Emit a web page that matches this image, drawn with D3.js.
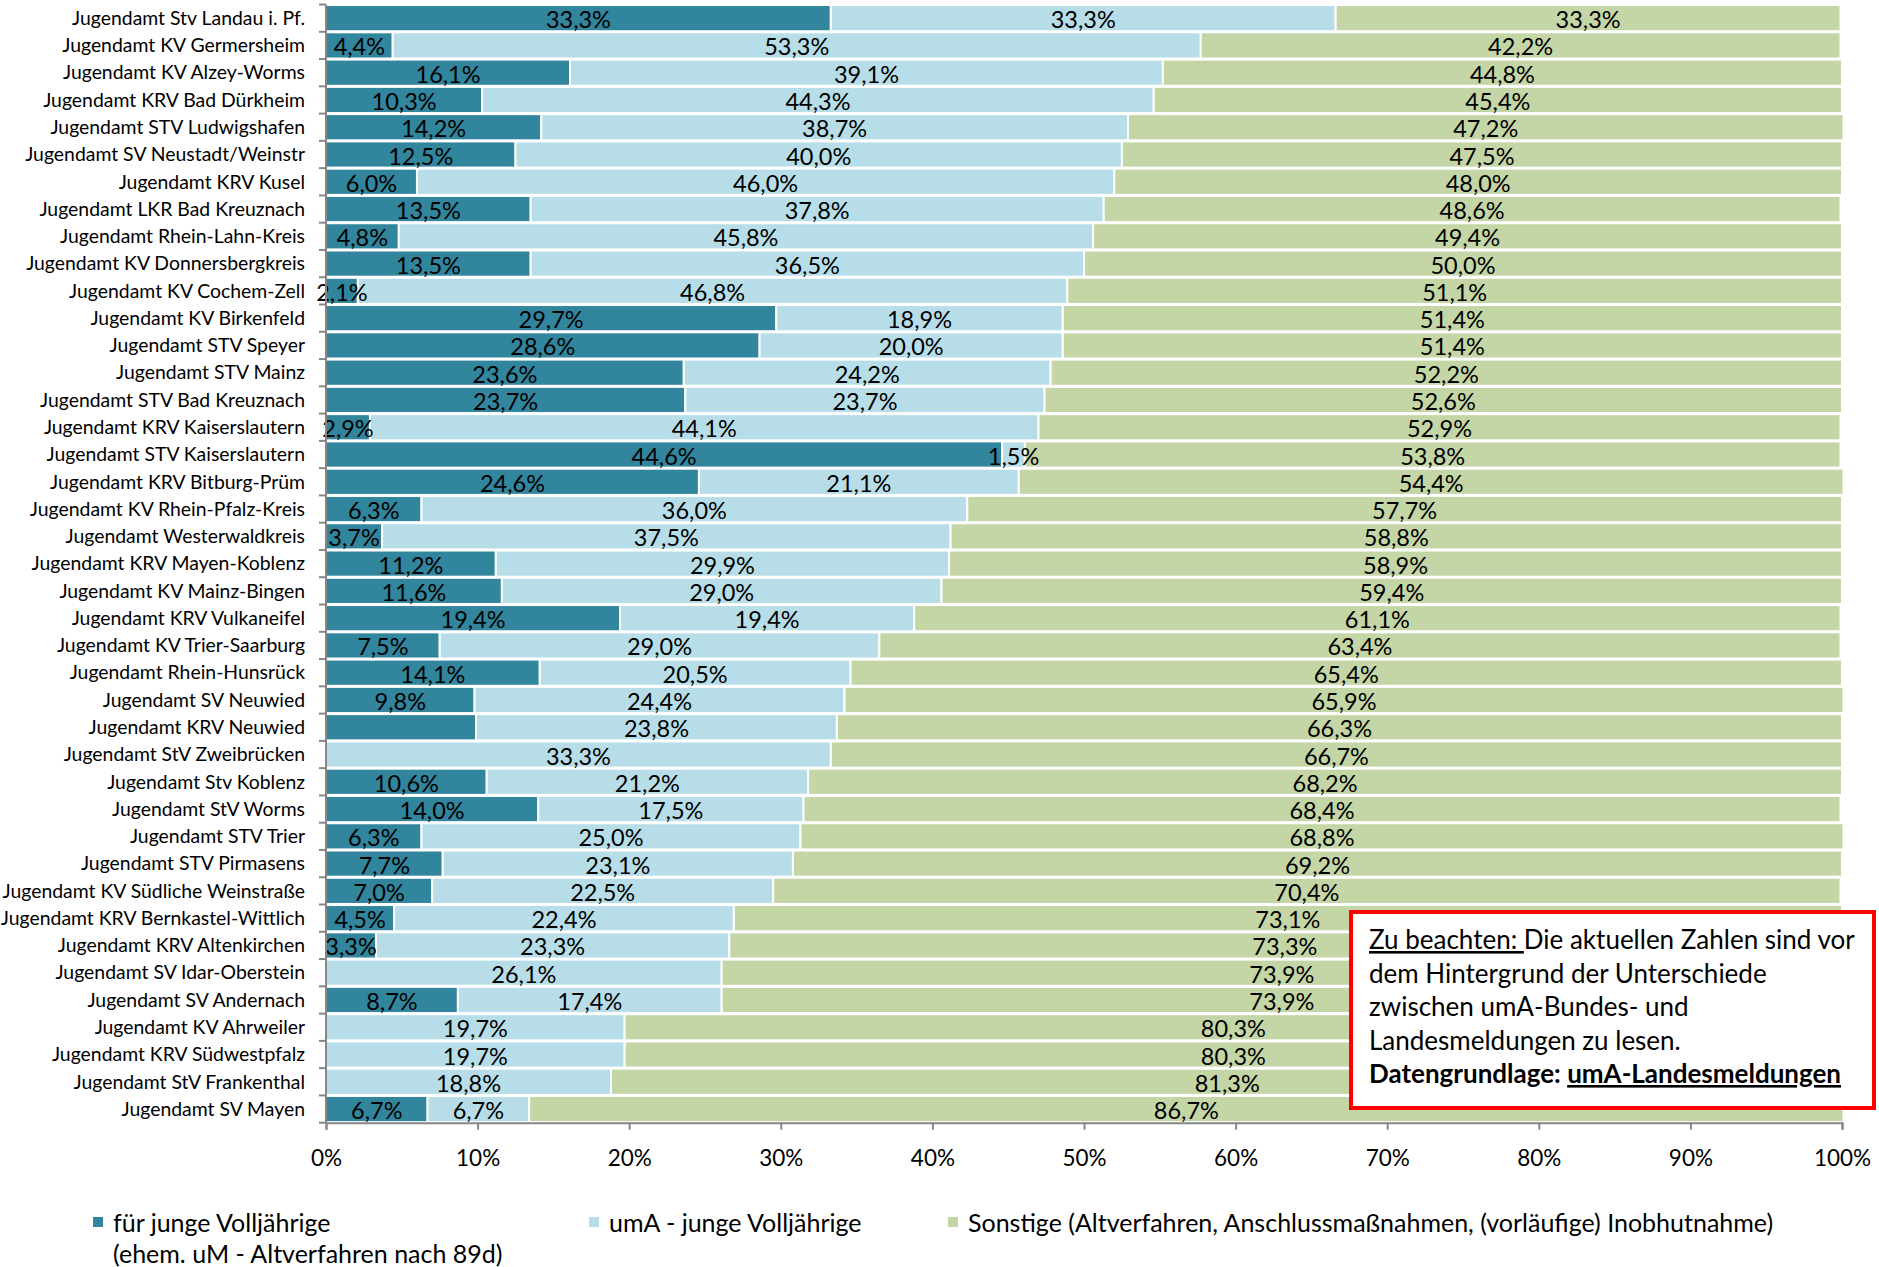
<!DOCTYPE html>
<html>
<head>
<meta charset="utf-8">
<script src="https://cdn.jsdelivr.net/npm/d3@7"></script>
<style>
body { margin: 0; background: #fff; }
svg text { font-family: Lato, "Liberation Sans", sans-serif; fill: #000; }
</style>
</head>
<body>
<svg id="chart"></svg>
<script>
var width = 1879, height = 1267;

// --- data (percent) ---
var categories = [
  "Jugendamt Stv Landau i. Pf.", "Jugendamt KV Germersheim", "Jugendamt KV Alzey-Worms",
  "Jugendamt KRV Bad Dürkheim", "Jugendamt STV Ludwigshafen", "Jugendamt SV Neustadt/Weinstr",
  "Jugendamt KRV Kusel", "Jugendamt LKR Bad Kreuznach", "Jugendamt Rhein-Lahn-Kreis",
  "Jugendamt KV Donnersbergkreis", "Jugendamt KV Cochem-Zell", "Jugendamt KV Birkenfeld",
  "Jugendamt STV Speyer", "Jugendamt STV Mainz", "Jugendamt STV Bad Kreuznach",
  "Jugendamt KRV Kaiserslautern", "Jugendamt STV Kaiserslautern", "Jugendamt KRV Bitburg-Prüm",
  "Jugendamt KV Rhein-Pfalz-Kreis", "Jugendamt Westerwaldkreis", "Jugendamt KRV Mayen-Koblenz",
  "Jugendamt KV Mainz-Bingen", "Jugendamt KRV Vulkaneifel", "Jugendamt KV Trier-Saarburg",
  "Jugendamt Rhein-Hunsrück", "Jugendamt SV Neuwied", "Jugendamt KRV Neuwied",
  "Jugendamt StV Zweibrücken", "Jugendamt Stv Koblenz", "Jugendamt StV Worms",
  "Jugendamt STV Trier", "Jugendamt STV Pirmasens", "Jugendamt KV Südliche Weinstraße",
  "Jugendamt KRV Bernkastel-Wittlich", "Jugendamt KRV Altenkirchen", "Jugendamt SV Idar-Oberstein",
  "Jugendamt SV Andernach", "Jugendamt KV Ahrweiler", "Jugendamt KRV Südwestpfalz",
  "Jugendamt StV Frankenthal", "Jugendamt SV Mayen"
];

var youngAdults = [33.3, 4.4, 16.1, 10.3, 14.2, 12.5, 6.0, 13.5, 4.8, 13.5, 2.1, 29.7, 28.6, 23.6, 23.7,
  2.9, 44.6, 24.6, 6.3, 3.7, 11.2, 11.6, 19.4, 7.5, 14.1, 9.8, 9.9, 0, 10.6, 14.0, 6.3, 7.7, 7.0,
  4.5, 3.3, 0, 8.7, 0, 0, 0, 6.7];

var umaYoungAdults = [33.3, 53.3, 39.1, 44.3, 38.7, 40.0, 46.0, 37.8, 45.8, 36.5, 46.8, 18.9, 20.0, 24.2, 23.7,
  44.1, 1.5, 21.1, 36.0, 37.5, 29.9, 29.0, 19.4, 29.0, 20.5, 24.4, 23.8, 33.3, 21.2, 17.5, 25.0, 23.1, 22.5,
  22.4, 23.3, 26.1, 17.4, 19.7, 19.7, 18.8, 6.7];

var otherCases = [33.3, 42.2, 44.8, 45.4, 47.2, 47.5, 48.0, 48.6, 49.4, 50.0, 51.1, 51.4, 51.4, 52.2, 52.6,
  52.9, 53.8, 54.4, 57.7, 58.8, 58.9, 59.4, 61.1, 63.4, 65.4, 65.9, 66.3, 66.7, 68.2, 68.4, 68.8, 69.2, 70.4,
  73.1, 73.3, 73.9, 73.9, 80.3, 80.3, 81.3, 86.7];

var seriesKeys = ["young", "uma", "other"];
var seriesNames = [
  ["für junge Volljährige", "(ehem. uM - Altverfahren nach 89d)"],
  ["umA - junge Volljährige"],
  ["Sonstige (Altverfahren, Anschlussmaßnahmen, (vorläufige) Inobhutnahme)"]
];
var seriesColors = ["#31859c", "#b7dee8", "#c4d6a6"];

// segment without a printed label in the original
var unlabeled = ["Jugendamt KRV Neuwied|young"];

var xTicks = [0, 10, 20, 30, 40, 50, 60, 70, 80, 90, 100];

var noteLines = [
  [{t: "Zu beachten: ", u: true}, {t: "Die aktuellen Zahlen sind vor"}],
  [{t: "dem Hintergrund der Unterschiede"}],
  [{t: "zwischen umA-Bundes- und"}],
  [{t: "Landesmeldungen zu lesen."}],
  [{t: "Datengrundlage: ", b: true}, {t: "umA-Landesmeldungen", b: true, u: true}]
];

// --- layout ---
var plot = {left: 326, right: 1842, top: 4.5, bottom: 1122.7};

var rows = categories.map(function(c, i) {
  return {name: c, young: youngAdults[i], uma: umaYoungAdults[i], other: otherCases[i]};
});

var series = d3.stack().keys(seriesKeys)(rows);

var color = d3.scaleOrdinal().domain(seriesKeys).range(seriesColors);

var x = d3.scaleLinear().domain([0, 100]).range([plot.left, plot.right]);

var y = d3.scaleBand()
  .domain(categories)
  .range([plot.top, plot.bottom])
  .paddingInner(0.04)
  .paddingOuter(0.02);

var de = d3.formatLocale({decimal: ",", thousands: ".", grouping: [3], currency: ["", "€"]});
var fmt = de.format(".1f");

var svg = d3.select("#chart").attr("width", width).attr("height", height);

// bars
svg.append("g")
  .selectAll("g")
  .data(series)
  .join("g")
  .attr("fill", function(s) { return color(s.key); })
  .selectAll("rect")
  .data(function(s) { return s; })
  .join("rect")
  .attr("x", function(d) { return x(d[0]); })
  .attr("y", function(d) { return y(d.data.name); })
  .attr("width", function(d) { return x(d[1]) - x(d[0]); })
  .attr("height", y.bandwidth())
  .attr("stroke", "#fff")
  .attr("stroke-width", 2);

// value labels
svg.append("g")
  .selectAll("g")
  .data(series)
  .join("g")
  .selectAll("text")
  .data(function(s) {
    return s.filter(function(d) {
      return d[1] - d[0] > 0 && unlabeled.indexOf(d.data.name + "|" + s.key) < 0;
    }).map(function(d) { return {d: d, key: s.key}; });
  })
  .join("text")
  .attr("x", function(o) { return x((o.d[0] + o.d[1]) / 2); })
  .attr("y", function(o) { return y(o.d.data.name) + y.bandwidth() / 2 + 1; })
  .attr("text-anchor", "middle")
  .attr("dominant-baseline", "central")
  .style("font-size", "23.5px")
  .text(function(o) { return fmt(o.d.data[o.key]) + "%"; });

// y axis (labels + category boundary ticks)
var yAxis = svg.append("g")
  .attr("transform", "translate(" + plot.left + ",0)")
  .call(d3.axisLeft(y).tickSize(0).tickPadding(21));
yAxis.select(".domain").remove();
yAxis.selectAll("text").style("font-size", "19.4px").attr("dy", "0.35em");

var step = (plot.bottom - plot.top) / categories.length;
svg.append("g")
  .selectAll("line")
  .data(d3.range(categories.length + 1))
  .join("line")
  .attr("x1", plot.left - 7).attr("x2", plot.left)
  .attr("y1", function(i) { return plot.top + i * step; })
  .attr("y2", function(i) { return plot.top + i * step; })
  .attr("stroke", "#868686").attr("stroke-width", 2);

svg.append("line")
  .attr("x1", plot.left).attr("x2", plot.left)
  .attr("y1", plot.top).attr("y2", plot.bottom)
  .attr("stroke", "#868686").attr("stroke-width", 2);

// x axis
var xAxis = svg.append("g")
  .attr("transform", "translate(0," + plot.bottom + ")")
  .call(d3.axisBottom(x).tickValues(xTicks).tickSize(7).tickPadding(20)
    .tickFormat(function(d) { return d + "%"; }));
xAxis.select(".domain").attr("stroke", "#868686").attr("stroke-width", 2);
xAxis.selectAll(".tick line").attr("stroke", "#868686").attr("stroke-width", 2);
xAxis.selectAll("text").style("font-size", "22.5px");

// legend
var legendX = [93, 589, 948];
var legend = svg.append("g")
  .selectAll("g")
  .data(seriesKeys)
  .join("g")
  .attr("transform", function(k, i) { return "translate(" + legendX[i] + ",1222)"; });

legend.append("rect")
  .attr("x", 0).attr("y", -5)
  .attr("width", 10).attr("height", 10)
  .attr("fill", function(k) { return color(k); });

legend.each(function(k, i) {
  d3.select(this).selectAll("text")
    .data(seriesNames[i])
    .join("text")
    .attr("x", 20)
    .attr("y", function(t, j) { return j * 31; })
    .attr("dominant-baseline", "central")
    .style("font-size", "25px")
    .text(function(t) { return t; });
});

// note box
var note = svg.append("g");
note.append("rect")
  .attr("x", 1351).attr("y", 912)
  .attr("width", 523).attr("height", 196)
  .attr("fill", "#fff")
  .attr("stroke", "#ff0000")
  .attr("stroke-width", 4);

note.selectAll("text")
  .data(noteLines)
  .join("text")
  .attr("x", 1369)
  .attr("y", function(l, i) { return 949 + i * 33.5; })
  .style("font-size", "26px")
  .selectAll("tspan")
  .data(function(l) { return l; })
  .join("tspan")
  .style("font-weight", function(p) { return p.b ? "bold" : "normal"; })
  .style("text-decoration", function(p) { return p.u ? "underline" : "none"; })
  .text(function(p) { return p.t; });
</script>
</body>
</html>
